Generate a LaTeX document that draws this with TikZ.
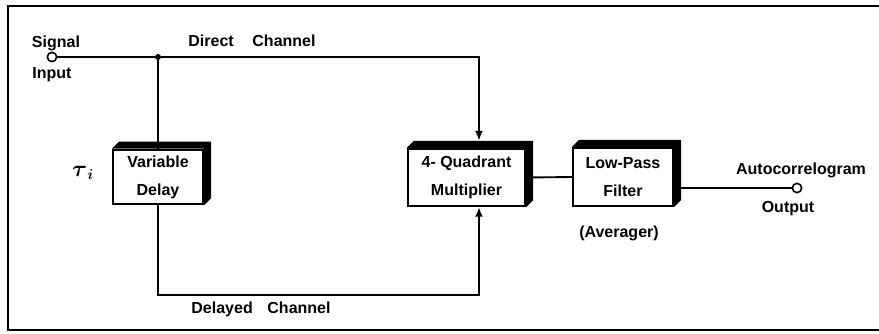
\documentclass[tikz,border=0pt]{standalone}
\usepackage{fontspec}
\setmainfont{Liberation Sans}
\usepackage{amsmath}
\usetikzlibrary{arrows.meta}
\usetikzlibrary{calc}

\tikzset{
  blockbox/.style={draw, line width=1.6pt, fill=white, inner sep=0pt, align=center, font=\bfseries\fontsize{12}{14}\selectfont},
  wire/.style={line width=1.4pt},
  port/.style={circle, draw, line width=1.2pt, fill=white, inner sep=0pt, minimum size=7pt},
  dot/.style={circle, fill, inner sep=0pt, minimum size=4.5pt},
  lbl/.style={inner sep=0pt, font=\bfseries\fontsize{12}{14}\selectfont},
}
% black top and right faces of a block
\newcommand{\boxshade}[1]{%
  \fill (#1.north west) -- ++(7,-7) -- ([shift={(7,-7)}]#1.north east) -- ([shift={(7,-7)}]#1.south east) -- (#1.south east) -- (#1.north east) -- cycle;}

\begin{document}
\begin{tikzpicture}[x=0.75pt,y=0.75pt,yscale=-1,xscale=1]
\useasboundingbox (0,0) rectangle (879,333);
%Frame
\draw [line width=2.2pt] (879,6) -- (8,6) -- (8,330) -- (879,330) ;
% Ports and corners
\node [port] (in) at (52,57) {};
\node [port] (out) at (797,188) {};
\node [dot] (jn) at (158,57) {};
\coordinate (dc) at (479,57);
\coordinate (dl) at (158,295);
\coordinate (dr) at (479,295);
% Blocks
\node [blockbox, minimum width=67.5pt, minimum height=41pt] (delay) at (158,177) {Variable\\[7pt]Delay};
\node [blockbox, minimum width=88pt, minimum height=43pt] (mult) at (466.5,177.5) {4- Quadrant\\[7pt]Multiplier};
\node [blockbox, minimum width=75pt, minimum height=43.5pt] (filt) at (623,177) {Low-Pass\\[7pt]Filter};
%Straight Lines
\draw [wire] (in) -- (jn) ;
\draw [wire] (jn) -- (delay.north) ;
\draw [wire] (mult.east) -- (filt.west) ;
\draw [wire] (filt.east |- out) -- (out) ;
\boxshade{delay}
\boxshade{mult}
\boxshade{filt}
%Arrows
\draw [wire, -{Latex[length=7.5pt,width=6pt]}] (jn) -- (dc) -- ($(dc |- mult.north)+(0,-7)$) ;
\draw [wire, -{Latex[length=7pt,width=6pt]}] (delay.south) -- (dl) -- (dr) -- (dr |- mult.south) ;
% Text Node
\node [lbl, anchor=base] (sig) at (56,47) {Signal};
% Text Node
\node [lbl, anchor=base] (inp) at (52,78) {Input};
% Text Node
\node [lbl, anchor=base] (dch) at (252,46) {Direct\hspace{14pt}Channel};
% Text Node
\node [lbl, anchor=base] (lch) at (261,313) {Delayed\hspace{11pt}Channel};
% Text Node
\node [inner sep=0pt, font=\fontsize{16}{18}\selectfont] (tau) at (83,173) {$\boldsymbol{\tau}_{\boldsymbol{i}}$};
% Text Node
\node [lbl, anchor=base] (avg) at (619,237) {(Averager)};
% Text Node
\node [lbl, anchor=base] (acg) at (801,174) {Autocorrelogram};
% Text Node
\node [lbl, anchor=base] (outp) at (788,212) {Output};
\end{tikzpicture}
\end{document}
